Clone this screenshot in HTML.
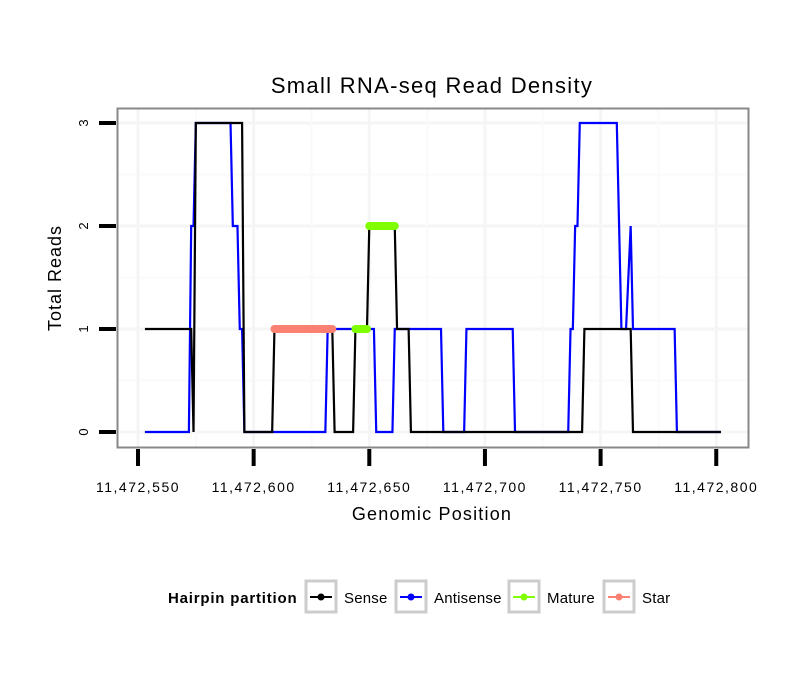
<!DOCTYPE html>
<html><head><meta charset="utf-8"><style>
body{margin:0;background:#fff;font-family:"Liberation Sans",sans-serif}
</style></head><body>
<svg id="chart" width="810" height="690" xmlns="http://www.w3.org/2000/svg" font-family="Liberation Sans, sans-serif">
<rect width="810" height="690" fill="#fff"/>
<text x="432" y="93" font-size="22" letter-spacing="1.3" text-anchor="middle">Small RNA-seq Read Density</text>
<g id="grid"></g>
<g id="series"></g>
<rect x="117.5" y="108.5" width="631" height="339" fill="none" stroke="#888" stroke-width="2"/>
<g id="axes"></g>
<text x="432" y="520" font-size="18" letter-spacing="1.2" text-anchor="middle">Genomic Position</text>
<text transform="translate(61,278) rotate(-90)" font-size="18" letter-spacing="1" text-anchor="middle">Total Reads</text>
<g id="legend"></g>
</svg>
<script>
const BASE = 11472550;
const xTicks = [11472550, 11472600, 11472650, 11472700, 11472750, 11472800];
const yTicks = [0, 1, 2, 3];
const senseX = [3,23,24,25,45,46,58,59,84,85,93,94,99,100,111,112,117,118,192,193,213,214,252];
const senseY = [1,1,0,3,3,0,0,1,1,0,0,1,1,2,2,1,1,0,0,1,1,0,0];
const antiX = [3,22,23,24,25,40,41,43,44,45,46,81,82,102,103,110,111,131,132,141,142,162,163,186,187,188,189,190,191,207,209,211,213,214,232,233,252];
const antiY = [0,0,2,2,3,3,2,2,1,1,0,0,1,1,0,0,1,1,0,0,1,1,0,0,1,1,2,2,3,3,1,1,2,1,1,0,0];
const matureSegs = [[94,99,1],[100,111,2]];
const starSegs = [[59,84,1]];
const xs = d => 138 + d * 2.313;
const xg = p => xs(p - BASE);
const ys = v => 432 - v * 103;
const NS = "http://www.w3.org/2000/svg";
function mk(parent, tag, attrs){const e=document.createElementNS(NS,tag);for(const k in attrs)e.setAttribute(k,attrs[k]);document.getElementById(parent).appendChild(e);return e;}
for (let i=0;i<yTicks.length;i++){
  const l=mk('grid','line',{x1:118,x2:748,y1:ys(yTicks[i]),y2:ys(yTicks[i]),stroke:'#f5f5f5','stroke-width':3});
  
  
  if(i<yTicks.length-1){const m=mk('grid','line',{x1:118,x2:748,y1:ys(yTicks[i]+0.5),y2:ys(yTicks[i]+0.5),stroke:'#fafafa','stroke-width':2});
  
  }
}
for (let i=0;i<xTicks.length;i++){
  const l=mk('grid','line',{x1:xg(xTicks[i]),x2:xg(xTicks[i]),y1:109,y2:447,stroke:'#f5f5f5','stroke-width':3});
  
  
  if(i<xTicks.length-1){const m=mk('grid','line',{x1:xg(xTicks[i]+25),x2:xg(xTicks[i]+25),y1:109,y2:447,stroke:'#fafafa','stroke-width':2});
  
  }
}
function poly(X,Y,color,name){
  const p=mk('series','polyline',{points:X.map((d,i)=>xs(d)+','+ys(Y[i])).join(' '),fill:'none',stroke:color,'stroke-width':2.2,'stroke-linejoin':'miter'});
  
  
}
poly(antiX,antiY,'#0000ff','antisense-line');
poly(senseX,senseY,'#000','sense-line');
for(const s of starSegs){const l=mk('series','line',{x1:xs(s[0]),x2:xs(s[1]),y1:ys(s[2]),y2:ys(s[2]),stroke:'#fa8072','stroke-width':8,'stroke-linecap':'round'});
  
  }
for(const s of matureSegs){const l=mk('series','line',{x1:xs(s[0]),x2:xs(s[1]),y1:ys(s[2]),y2:ys(s[2]),stroke:'#7fff00','stroke-width':8,'stroke-linecap':'round'});
  
  }
for(const t of yTicks){
  const l=mk('axes','line',{x1:99,x2:116,y1:ys(t),y2:ys(t),stroke:'#000','stroke-width':4});
  
  
  const tx=mk('axes','text',{transform:`translate(${88},${ys(t)}) rotate(-90)`,'font-size':13,'text-anchor':'middle'});
  
  
  tx.textContent=t;
}
for(const t of xTicks){
  const l=mk('axes','line',{x1:xg(t),x2:xg(t),y1:449,y2:466,stroke:'#000','stroke-width':4});
  
  
  const tx=mk('axes','text',{x:xg(t),y:492,'font-size':14,'letter-spacing':1.5,'text-anchor':'middle'});
  
  
  tx.textContent=t.toLocaleString('en-US');
}
const lt=mk('legend','text',{x:168,y:603,'font-size':15,'font-weight':'bold','letter-spacing':0.8});


lt.textContent='Hairpin partition';
const legNames=['Sense','Antisense','Mature','Star'];
const legColors=['#000','#0000ff','#7fff00','#fa8072'];
const legKeyX=[306,396,509,604];
for(let i=0;i<4;i++){
  const g=mk('legend','g',{});
  
  
  const r=document.createElementNS(NS,'rect');
  Object.entries({x:legKeyX[i],y:581,width:30,height:31,fill:'#fff',stroke:'#ccc','stroke-width':3}).forEach(([k,v])=>r.setAttribute(k,v));
  
  
  g.appendChild(r);
  const ln=document.createElementNS(NS,'line');
  Object.entries({x1:legKeyX[i]+4,x2:legKeyX[i]+26,y1:597,y2:597,stroke:legColors[i],'stroke-width':2}).forEach(([k,v])=>ln.setAttribute(k,v));
  
  
  g.appendChild(ln);
  const c=document.createElementNS(NS,'circle');
  Object.entries({cx:legKeyX[i]+15,cy:597,r:3.5,fill:legColors[i]}).forEach(([k,v])=>c.setAttribute(k,v));
  
  
  g.appendChild(c);
  const t=document.createElementNS(NS,'text');
  Object.entries({x:legKeyX[i]+38,y:603,'font-size':15,'letter-spacing':0.2}).forEach(([k,v])=>t.setAttribute(k,v));
  
  
  t.textContent=legNames[i];
  g.appendChild(t);
}
</script>
</body></html>
